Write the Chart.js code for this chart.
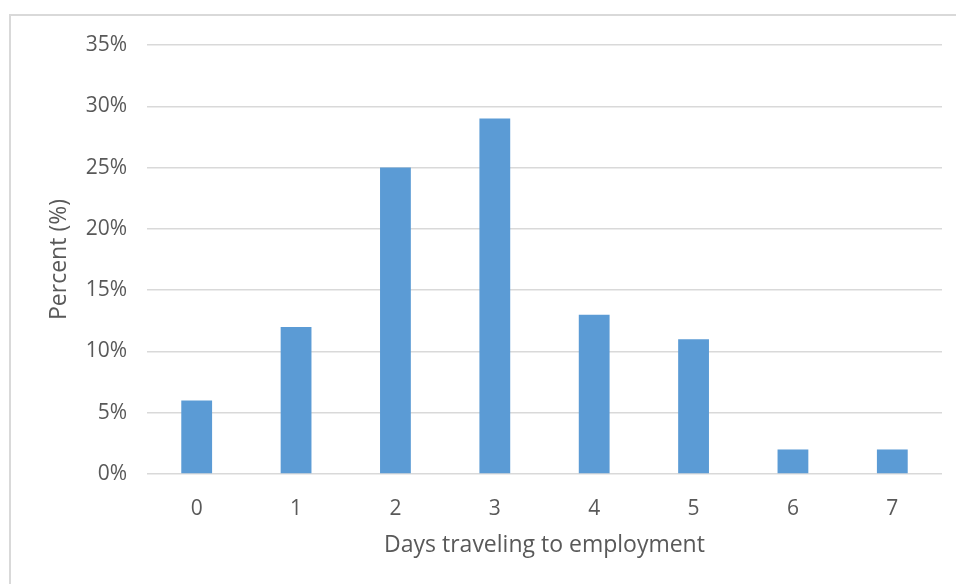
<!DOCTYPE html>
<html>
<head>
<meta charset="utf-8">
<script src="https://cdn.jsdelivr.net/npm/chart.js@4/dist/chart.umd.min.js"></script>
<style>
  html, body { margin: 0; padding: 0; background: #fff; overflow: hidden; }
  #frame { position: absolute; left: 9px; top: 14px; width: 980px; height: 600px; border: 2px solid #d9d9d9; }
  #wrap { position: absolute; left: 0; top: 0; width: 956px; height: 584px; }
</style>
</head>
<body>
<div id="frame"></div>
<div id="wrap"><canvas id="myChart" width="956" height="584"></canvas></div>
<script>
// days per week spent travelling to work
const days = ['0', '1', '2', '3', '4', '5', '6', '7'];
const percents = [6, 12, 25, 29, 13, 11, 2, 2];
const yTicks = [0, 5, 10, 15, 20, 25, 30, 35];

const textColor = '#595959';
const gridColor = '#d9d9d9';
const tickFont = { family: "'Open Sans', sans-serif", size: 21 };
const titleFont = { family: "'Open Sans', sans-serif", size: 23 };

var canvas = document.getElementById('myChart');

var myChart = new Chart(canvas, {
  type: 'bar',
  data: {
    labels: days,
    datasets: [{
      label: 'Percent',
      data: percents,
      backgroundColor: '#5b9bd5',
      borderWidth: 0,
      barPercentage: 0.31,
      categoryPercentage: 1.0
    }]
  },
  options: {
    responsive: false,
    animation: false,
    layout: { padding: { left: 40, top: 45, right: 14, bottom: 20 } },
    plugins: { legend: { display: false }, tooltip: { enabled: false } },
    scales: {
      x: {
        grid: { display: false, drawTicks: false },
        border: { display: false },
        ticks: { color: textColor, font: tickFont, padding: 22, maxRotation: 0 },
        title: {
          display: true,
          text: 'Days traveling to employment',
          color: textColor,
          font: titleFont,
          padding: { top: 4, bottom: 5 }
        },
        afterFit: function(scale) { scale.height = 90; }
      },
      y: {
        min: 0,
        max: 35,
        afterBuildTicks: function(scale) {
          scale.ticks = yTicks.map(v => ({ value: v }));
        },
        grid: { color: gridColor, lineWidth: 1.5, drawTicks: false },
        border: { display: false },
        ticks: {
          color: textColor,
          font: tickFont,
          padding: 20,
          callback: v => v + '%'
        },
        title: {
          display: true,
          text: 'Percent (%)',
          color: textColor,
          font: titleFont,
          padding: { top: 6, bottom: 0 }
        },
        afterFit: function(scale) { scale.width = 107; }
      }
    }
  }
});
</script>
</body>
</html>
